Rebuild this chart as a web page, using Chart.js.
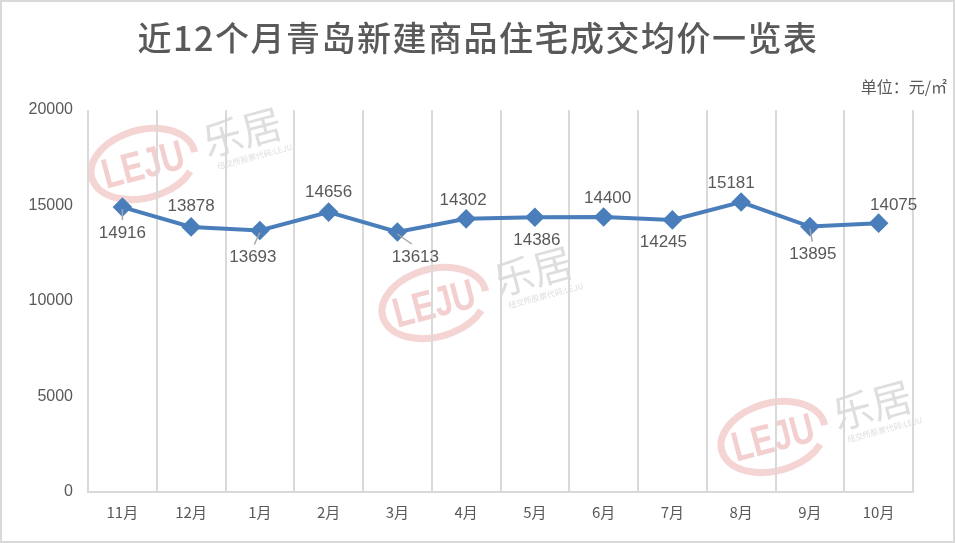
<!DOCTYPE html>
<html>
<head>
<meta charset="utf-8">
<script src="https://cdn.jsdelivr.net/npm/chart.js@4"></script>
<style>
  html, body { margin: 0; padding: 0; background: #fff; }
  #wrap { width: 955px; height: 543px; }
</style>
</head>
<body>
<div id="wrap"><canvas id="priceChart" width="955" height="543"></canvas></div>
<script>
// data
const months = ['11月', '12月', '1月', '2月', '3月', '4月', '5月', '6月', '7月', '8月', '9月', '10月'];
const avgPrice = [14916, 13878, 13693, 14656, 13613, 14302, 14386, 14400, 14245, 15181, 13895, 14075];
const yTicks = [0, 5000, 10000, 15000, 20000];

const titleText = '近12个月青岛新建商品住宅成交均价一览表';
const unitText = '单位：元/㎡';

// where each value label sits relative to its point: [dx, dy, leader line?]
const labelPlace = [
    [0, 26, true], [0, -21, false], [-7, 27, true], [0, -20, false],
    [18, 25, true], [-3, -19, false], [2, 23, false], [4, -19, false],
    [-9, 22, false], [-10, -19, false], [3, 28, true], [15, -18, false]
];

const watermarks = [[143, 164], [434, 303], [773, 437]];

const textGrey = '#595959';

const decorPlugin = {
    id: 'decor',
    beforeDraw(chart) {
        const c = chart.ctx;
        c.save();
        c.fillStyle = '#fff';
        c.fillRect(0, 0, chart.width, chart.height);
        c.strokeStyle = '#d9d9d9';
        c.lineWidth = 2;
        c.strokeRect(1, 1, chart.width - 2, chart.height - 2);

        // title
        c.fillStyle = textGrey;
        c.textAlign = 'center';
        c.textBaseline = 'middle';
        c.font = '500 34px "Noto Sans CJK SC"';
        if ('letterSpacing' in c) c.letterSpacing = '1.5px';
        c.fillText(titleText, 478, 38);
        if ('letterSpacing' in c) c.letterSpacing = '0px';

        c.font = '16px "Noto Sans CJK SC"';
        c.textAlign = 'right';
        c.fillText(unitText, 947, 87);

        // watermarks
        watermarks.forEach(([wx, wy]) => {
            c.save();
            c.translate(wx, wy);
            c.rotate(-0.26);
            c.strokeStyle = 'rgba(232, 160, 160, 0.45)';
            c.lineWidth = 7;
            c.beginPath();
            c.ellipse(0, 0, 53, 34, 0, 0.6, Math.PI * 2 + 0.05);
            c.stroke();
            c.fillStyle = 'rgba(232, 160, 160, 0.5)';
            c.font = 'bold 42px "Liberation Sans"';
            c.textAlign = 'center';
            c.textBaseline = 'middle';
            c.scale(0.78, 1);
            c.fillText('LEJU', 0, 3);
            c.restore();

            c.save();
            c.translate(wx + 99, wy - 32);
            c.rotate(-0.26);
            c.fillStyle = 'rgba(200, 200, 200, 0.6)';
            c.textAlign = 'center';
            c.textBaseline = 'middle';
            c.font = '40px "Noto Sans CJK SC"';
            c.fillText('乐居', 0, 0);
            c.font = '8px "Noto Sans CJK SC"';
            c.fillText('纽交所股票代码:LEJU', 6, 27);
            c.restore();
        });
        c.restore();
    },
    afterDatasetsDraw(chart) {
        const c = chart.ctx;
        const pts = chart.getDatasetMeta(0).data;
        c.save();
        c.font = '17px "Liberation Sans"';
        c.fillStyle = textGrey;
        c.textAlign = 'center';
        c.textBaseline = 'middle';
        pts.forEach((p, i) => {
            const [dx, dy, leader] = labelPlace[i];
            const lx = p.x + dx, ly = p.y + dy;
            if (leader) {
                c.strokeStyle = '#a6a6a6';
                c.lineWidth = 1.5;
                c.beginPath();
                c.moveTo(p.x, p.y + 2);
                c.lineTo(p.x + dx * 0.8, ly - 13);
                c.stroke();
            }
            c.fillText(String(avgPrice[i]), lx, ly);
        });
        c.restore();
    }
};

new Chart(document.getElementById('priceChart'), {
    type: 'line',
    data: {
        labels: months,
        datasets: [{
            data: avgPrice,
            borderColor: '#4a7ebb',
            backgroundColor: '#4a7ebb',
            borderWidth: 4,
            pointStyle: 'rectRot',
            pointRadius: 7,
            pointHoverRadius: 7,
            tension: 0
        }]
    },
    options: {
        responsive: false,
        animation: false,
        layout: { padding: { left: 0, top: 110, right: 42, bottom: 0 } },
        plugins: {
            legend: { display: false },
            tooltip: { enabled: false },
            title: { display: false }
        },
        scales: {
            x: {
                offset: true,
                grid: { display: true, offset: true, color: '#d9d9d9', lineWidth: 2, drawTicks: false },
                border: { display: true, color: '#d9d9d9', width: 2 },
                ticks: {
                    color: textGrey,
                    font: { family: '"Noto Sans CJK SC"', size: 15 },
                    padding: 11,
                    maxRotation: 0
                },
                afterFit(scale) { scale.height = 51; }
            },
            y: {
                min: 0,
                max: 20000,
                afterBuildTicks(scale) { scale.ticks = yTicks.map(v => ({ value: v })); },
                grid: { display: false, drawTicks: false },
                border: { display: false },
                ticks: {
                    color: textGrey,
                    font: { family: '"Liberation Sans"', size: 16 },
                    padding: 15,
                    callback: v => String(v)
                },
                afterFit(scale) { scale.width = 88; }
            }
        }
    },
    plugins: [decorPlugin]
});
</script>
</body>
</html>
